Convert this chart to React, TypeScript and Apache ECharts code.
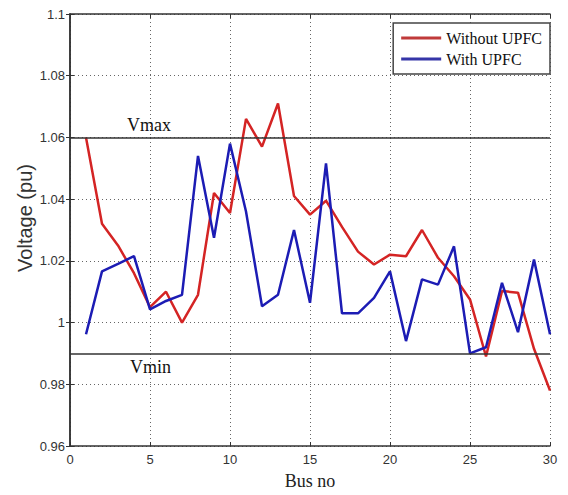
import React, { useEffect, useRef } from "react";
import * as echarts from "echarts";

const buses = Array.from({ length: 30 }, (_, i) => i + 1);
const withoutUPFC = [
  1.06, 1.032, 1.025, 1.016, 1.005, 1.010, 1.000, 1.009, 1.042, 1.0355,
  1.066, 1.057, 1.071, 1.041, 1.035, 1.0395, 1.031, 1.023, 1.0188, 1.022,
  1.0215, 1.030, 1.021, 1.015, 1.0075, 0.989, 1.0102, 1.0097, 0.9915, 0.978,
];
const withUPFC = [
  0.9962, 1.0166, 1.019, 1.0215, 1.0043, 1.007, 1.009, 1.054, 1.0275, 1.058,
  1.036, 1.0053, 1.009, 1.030, 1.0064, 1.0516, 1.003, 1.003, 1.008, 1.0166,
  0.994, 1.014, 1.0123, 1.0247, 0.990, 0.992, 1.0129, 0.9969, 1.0204, 0.9962,
];
const vmax = 1.0585;
const vmin = 0.99;
const yRange = [0.96, 1.1];

export default function App() {
  const ref = useRef<HTMLDivElement>(null);
  useEffect(() => {
    const chart = echarts.init(ref.current!, null, { renderer: "svg" });
    const serif = "'Liberation Serif', 'Times New Roman', serif";
    const sans = "'Liberation Sans', Arial, sans-serif";
    const grid = { left: 70, right: 18, top: 14, bottom: 48 };
    const gridLine = { show: true, lineStyle: { type: [1, 3] as any, color: "#666", width: 1 } };
    chart.setOption({
      animation: false,
      backgroundColor: "#fff",
      grid,
      graphic: [
        {
          type: "text",
          x: 25,
          y: 218,
          rotation: Math.PI / 2,
          style: {
            text: "Voltage (pu)",
            fontFamily: sans,
            fontSize: 20,
            fill: "#333",
            align: "center",
            verticalAlign: "middle",
          },
        },
      ],
      legend: {
        right: 18,
        top: 23,
        orient: "vertical",
        backgroundColor: "#fff",
        borderColor: "#444",
        borderWidth: 1.5,
        borderRadius: 0,
        padding: [7, 8, 7, 8],
        icon: "rect",
        itemWidth: 40,
        itemHeight: 3,
        itemGap: 5,
        textStyle: { fontFamily: serif, fontSize: 16, color: "#111" },
        data: ["Without UPFC", "With UPFC"],
      },
      xAxis: [
        {
          type: "value",
          min: 0,
          max: 30,
          interval: 5,
          name: "Bus no",
          nameLocation: "middle",
          nameGap: 26,
          nameTextStyle: { fontFamily: serif, fontSize: 18, color: "#222" },
          axisLine: { show: true, lineStyle: { color: "#333", width: 1.5 } },
          axisTick: { show: true, inside: true, length: 4, lineStyle: { color: "#333" } },
          axisLabel: { fontFamily: sans, fontSize: 13, color: "#333", margin: 7 },
          splitLine: gridLine,
        },
        {
          type: "value",
          position: "top",
          min: 0,
          max: 30,
          interval: 5,
          axisLine: { show: true, lineStyle: { color: "#333", width: 1.5 } },
          axisTick: { show: true, inside: true, length: 4, lineStyle: { color: "#333" } },
          axisLabel: { show: false },
          splitLine: { show: false },
        },
      ],
      yAxis: [
        {
          type: "value",
          min: yRange[0],
          max: yRange[1],
          interval: 0.02,
          axisLine: { show: true, lineStyle: { color: "#333", width: 1.5 } },
          axisTick: { show: true, inside: true, length: 4, lineStyle: { color: "#333" } },
          axisLabel: {
            fontFamily: sans,
            fontSize: 13,
            color: "#333",
            margin: 5,
            formatter: (v: number) => String(parseFloat(v.toFixed(2))),
          },
          splitLine: gridLine,
        },
        {
          type: "value",
          position: "right",
          min: yRange[0],
          max: yRange[1],
          interval: 0.02,
          axisLine: { show: true, lineStyle: { color: "#333", width: 1.5 } },
          axisTick: { show: true, inside: true, length: 4, lineStyle: { color: "#333" } },
          axisLabel: { show: false },
          splitLine: { show: false },
        },
      ],
      series: [
        {
          name: "Without UPFC",
          type: "line",
          symbol: "none",
          data: buses.map((b, i) => [b, withoutUPFC[i]]),
          lineStyle: { color: "#d42424", width: 2.5 },
          itemStyle: { color: "#c03a3a" },
          z: 3,
          markLine: {
            silent: true,
            symbol: "none",
            lineStyle: { color: "#333", width: 1.5, type: "solid" },
            label: {
              show: true,
              position: "insideStartTop",
              distance: [57, 3],
              fontFamily: serif,
              fontSize: 18,
              color: "#111",
              formatter: "{b}",
            },
            data: [
              { name: "Vmax", yAxis: vmax },
              {
                name: "Vmin",
                yAxis: vmin,
                label: { position: "insideStartBottom", distance: [60, 5] },
              },
            ],
          },
        },
        {
          name: "With UPFC",
          type: "line",
          symbol: "none",
          data: buses.map((b, i) => [b, withUPFC[i]]),
          lineStyle: { color: "#1c1cb4", width: 2.5 },
          itemStyle: { color: "#3535a8" },
          z: 4,
        },
      ],
    });
    return () => chart.dispose();
  }, []);
  return <div ref={ref} style={{ width: 568, height: 495, position: "absolute", left: 0, top: 0 }} />;
}
